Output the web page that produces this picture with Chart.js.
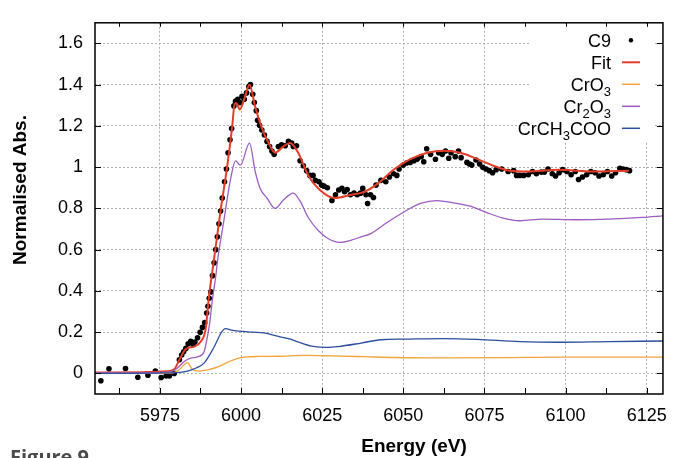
<!DOCTYPE html>
<html>
<head>
<meta charset="utf-8">
<script src="https://cdn.jsdelivr.net/npm/chart.js@4.4.1/dist/chart.umd.min.js"></script>
<style>
  body { margin: 0; background: #fff; }
  #wrap { width: 678px; height: 458px; position: relative; }
</style>
</head>
<body>
<div id="wrap"><canvas id="xas"></canvas></div>
<script>
// tick positions
const xTicks = [5975, 6000, 6025, 6050, 6075, 6100, 6125];
const yTicks = [0, 0.2, 0.4, 0.6, 0.8, 1, 1.2, 1.4, 1.6];

// measured spectrum C9
const c9E = [5956.8, 5959.3, 5964.4, 5968.2, 5971.3, 5973.6, 5975.4, 5976.9, 5977.9, 5979.4,
  5981, 5981.7, 5982.3, 5983, 5983.7, 5984.5, 5985.2, 5985.8, 5986.6, 5987.4, 5988.1, 5988.8,
  5989.4, 5989.8, 5990.2, 5990.7, 5991.2, 5991.7, 5992.2, 5992.7, 5993.2, 5993.7, 5994.2,
  5994.9, 5995.5, 5996, 5996.6, 5997.1, 5997.8, 5998.3, 5999, 5999.6, 6000.3, 6001, 6001.7,
  6002.4, 6002.9, 6003.6, 6004.1, 6004.7, 6005.1, 6005.7, 6006.4, 6007.2, 6008, 6008.8,
  6009.5, 6010.2, 6011.5, 6012.5, 6013.6, 6014.6, 6015.6, 6016.1, 6017.1, 6018.2, 6019.2,
  6020.2, 6021.2, 6022.2, 6022.9, 6024, 6024.8, 6025.6, 6026.6, 6028, 6029.1, 6030.1,
  6031.1, 6031.9, 6032.7, 6033.7, 6034.8, 6035.8, 6036.8, 6037.5, 6038.5, 6039, 6039.9,
  6040.8, 6041.6, 6043.1, 6044.6, 6045.7, 6047, 6048, 6048.7, 6050, 6051, 6052.1, 6053.3,
  6054.3, 6055.5, 6056.3, 6057.2, 6058.4, 6059.9, 6060.9, 6062, 6063, 6064, 6064.7, 6066,
  6067, 6067.8, 6069.6, 6070.4, 6071.1, 6072.4, 6073.5, 6074.5, 6075.5, 6076.5, 6077.5,
  6078.6, 6080.3, 6082.3, 6084, 6084.9, 6085.9, 6087.1, 6088.5, 6089.8, 6091, 6092.5,
  6093.5, 6094.6, 6095.9, 6096.9, 6098, 6099.1, 6100.4, 6101.7, 6103, 6104, 6105.2, 6106.5,
  6107.8, 6109.1, 6110.3, 6111.6, 6112.9, 6114.2, 6115.4, 6116.7, 6117.7, 6118.7, 6119.7];
const c9Y = [-0.036, 0.022, 0.024, -0.019, -0.009, 0.011, -0.02, -0.013, -0.013, 0.0,
  0.066, 0.089, 0.105, 0.121, 0.144, 0.155, 0.141, 0.152, 0.173, 0.199, 0.223, 0.246,
  0.293, 0.325, 0.364, 0.395, 0.474, 0.536, 0.6, 0.662, 0.725, 0.787, 0.85,
  0.929, 0.991, 1.07, 1.133, 1.187, 1.297, 1.32, 1.329, 1.313, 1.344, 1.329, 1.36,
  1.391, 1.40, 1.353, 1.313, 1.274, 1.227, 1.203, 1.18, 1.156, 1.125, 1.10,
  1.078, 1.062, 1.10, 1.109, 1.104, 1.125, 1.117, 1.10, 1.104, 1.031, 1.007,
  0.983, 0.96, 0.96, 0.936, 0.929, 0.913, 0.908, 0.90, 0.838, 0.866, 0.889,
  0.897, 0.881, 0.892, 0.866, 0.874, 0.866, 0.874, 0.897, 0.866, 0.824, 0.866,
  0.853, 0.913, 0.936, 0.929, 0.952, 0.968, 0.96, 0.991, 1.01, 1.02, 1.023, 1.031,
  1.039, 1.051, 1.026, 1.089, 1.062, 1.038, 1.07, 1.062, 1.078, 1.043, 1.07, 1.051,
  1.078, 1.046, 1.023, 1.015, 1.01, 1.035, 1.015, 0.999, 0.991, 0.983, 0.973,
  0.988, 0.991, 0.979, 0.983, 0.96, 0.96, 0.96, 0.963, 0.979, 0.968, 0.976,
  0.976, 0.991, 0.968, 0.957, 0.973, 0.988, 0.979, 0.963, 0.979, 0.94, 0.952, 0.963,
  0.979, 0.973, 0.957, 0.963, 0.979, 0.957, 0.973, 0.995, 0.991, 0.988, 0.983];

// fit
const fitE = [5955, 5970, 5977, 5979.4, 5981, 5983, 5985.6, 5987.6, 5989.1, 5990.1, 5991.2,
  5992.5, 5993.7, 5995.7, 5997.3, 5998, 5998.6, 5999.6, 6001, 6002.6, 6004.4, 6006.4, 6008.5,
  6010.5, 6013, 6015.1, 6017.6, 6020.7, 6023.8, 6028.9, 6034, 6038, 6042.1, 6047.2, 6052.3,
  6057.4, 6062.5, 6067.6, 6072.7, 6077.8, 6082.8, 6088, 6098.1, 6108.3, 6119.5];
const fitY = [0.004, 0.006, 0.01, 0.02, 0.066, 0.118, 0.13, 0.155, 0.215, 0.37, 0.5,
  0.65, 0.79, 1.0, 1.2, 1.305, 1.31, 1.28, 1.33, 1.40, 1.29, 1.19, 1.117,
  1.07, 1.10, 1.117, 1.07, 0.96, 0.897, 0.85, 0.866, 0.88, 0.92, 0.99, 1.04,
  1.07, 1.08, 1.07, 1.04, 1.007, 0.983, 0.979, 0.987, 0.979, 0.983];

// references
const cro3E = [5955, 5979, 5981, 5983.5, 5985, 5987.1, 5990, 5993.2, 5996, 5999.3, 6002,
  6005.4, 6011.5, 6020, 6027.8, 6038, 6047.2, 6062.5, 6080, 6098.1, 6130];
const cro3Y = [0.0, 0.003, 0.019, 0.052, 0.02, 0.011, 0.018, 0.034, 0.055, 0.074, 0.08,
  0.082, 0.083, 0.087, 0.085, 0.081, 0.077, 0.075, 0.076, 0.079, 0.079];

const cr2o3E = [5955, 5975, 5979, 5980.5, 5982.5, 5984.5, 5986.6, 5988.6, 5989.3, 5990.3,
  5991.2, 5992.2, 5992.7, 5994.7, 5996.8, 5998.3, 5999.8, 6002.6, 6004.4, 6005.9, 6008,
  6010.5, 6013, 6016.1, 6018.2, 6020.7, 6023.8, 6026.8, 6030.4, 6034, 6037, 6040, 6045.1,
  6050.3, 6055.3, 6060.4, 6065.5, 6070.6, 6075.7, 6080.8, 6085.9, 6093, 6103.2, 6113.4,
  6123.6, 6130];
const cr2o3Y = [0.002, 0.005, 0.012, 0.027, 0.058, 0.074, 0.08, 0.105, 0.15, 0.24,
  0.36, 0.47, 0.54, 0.74, 0.944, 1.03, 1.01, 1.117, 0.976, 0.897, 0.85,
  0.80, 0.84, 0.874, 0.835, 0.756, 0.693, 0.654, 0.635, 0.646, 0.662, 0.678, 0.733,
  0.784, 0.824, 0.838, 0.827, 0.811, 0.78, 0.753, 0.74, 0.748, 0.745, 0.748,
  0.756, 0.764];

const acetE = [5955, 5980, 5983.5, 5986, 5988.6, 5991.7, 5994, 5995.2, 5997, 5999.3, 6003.4,
  6007.5, 6011.5, 6014.6, 6018, 6021.7, 6024.5, 6026.8, 6029.9, 6037, 6043.1, 6050.3, 6062.5,
  6072.7, 6085.9, 6098.1, 6113.4, 6130];
const acetY = [0.0, 0.004, 0.011, 0.025, 0.05, 0.128, 0.2, 0.217, 0.21, 0.205, 0.2,
  0.195, 0.179, 0.168, 0.15, 0.132, 0.127, 0.126, 0.13, 0.147, 0.163, 0.166, 0.169,
  0.165, 0.154, 0.151, 0.154, 0.157];

const names = ['C9', 'Fit', 'CrO3', 'Cr2O3', 'CrCH3COO'];
// legend text split into [text, isSubscript]
const legendParts = [
  [['C9', false]],
  [['Fit', false]],
  [['CrO', false], ['3', true]],
  [['Cr', false], ['2', true], ['O', false], ['3', true]],
  [['CrCH', false], ['3', true], ['COO', false]]
];
const colors = ['#000000', '#e23d28', '#f2a33a', '#9d5cc0', '#2b4e9e'];

const pts = (xs, ys) => xs.map((v, i) => ({ x: v, y: ys[i] }));
const FONT = '"Liberation Sans", Arial, sans-serif';

function lineSet(label, xs, ys, color, width, order) {
  return {
    label: label,
    data: pts(xs, ys),
    showLine: true,
    borderColor: color,
    borderWidth: width,
    pointRadius: 0,
    cubicInterpolationMode: 'monotone',
    order: order
  };
}

const decor = {
  id: 'decor',
  afterDatasetsDraw(chart) {
    const ctx = chart.ctx;
    const a = chart.chartArea;
    const xs = chart.scales.x, ys = chart.scales.y;
    ctx.save();

    // legend box
    ctx.fillStyle = '#fff';
    ctx.fillRect(a.right - 132, a.top + 1, 122, 118);
    const textRight = a.right - 52;
    ctx.textBaseline = 'alphabetic';
    legendParts.forEach((parts, i) => {
      const base = a.top + 24 + i * 22;
      let w = 0;
      parts.forEach(p => {
        ctx.font = (p[1] ? '13px ' : '18px ') + FONT;
        w += ctx.measureText(p[0]).width;
      });
      let cx = textRight - w;
      ctx.fillStyle = '#000';
      ctx.textAlign = 'left';
      parts.forEach(p => {
        ctx.font = (p[1] ? '13px ' : '18px ') + FONT;
        ctx.fillText(p[0], cx, base + (p[1] ? 5 : 0));
        cx += ctx.measureText(p[0]).width;
      });
      const sy = base - 6.5;
      if (i === 0) {
        ctx.beginPath();
        ctx.arc(a.right - 32, sy, 2.2, 0, Math.PI * 2);
        ctx.fill();
      } else {
        ctx.strokeStyle = colors[i];
        ctx.lineWidth = i === 1 ? 2 : 1.5;
        ctx.beginPath();
        ctx.moveTo(a.right - 41, sy);
        ctx.lineTo(a.right - 23, sy);
        ctx.stroke();
      }
    });

    // tick marks pointing inward
    ctx.strokeStyle = '#000';
    ctx.lineWidth = 1;
    const xAll = [];
    xTicks.forEach(v => { xAll.push(v); xAll.push(v - 12.5); });
    xAll.push(6137.5);
    xAll.forEach(v => {
      if (v <= xs.min || v >= xs.max) return;
      const px = Math.round(xs.getPixelForValue(v)) + 0.5;
      ctx.beginPath();
      ctx.moveTo(px, a.bottom);
      ctx.lineTo(px, a.bottom - 6);
      ctx.moveTo(px, a.top);
      ctx.lineTo(px, a.top + 4);
      ctx.stroke();
    });
    yTicks.forEach(v => {
      const py = Math.round(ys.getPixelForValue(v)) + 0.5;
      ctx.beginPath();
      ctx.moveTo(a.right, py);
      ctx.lineTo(a.right - 6, py);
      ctx.moveTo(a.left, py);
      ctx.lineTo(a.left + 6, py);
      ctx.stroke();
    });

    // frame
    ctx.lineWidth = 1.5;
    ctx.strokeRect(a.left, a.top, a.right - a.left, a.bottom - a.top);
    ctx.restore();
  },
  afterDraw(chart) {
    const ctx = chart.ctx;
    ctx.save();
    ctx.fillStyle = '#000';
    ctx.font = 'bold 19px ' + FONT;
    ctx.textAlign = 'center';
    ctx.textBaseline = 'middle';
    ctx.fillText('Energy (eV)', 414, 447);
    ctx.translate(21, 190);
    ctx.rotate(-Math.PI / 2);
    ctx.fillText('Normalised Abs.', 0, 0);
    ctx.restore();

    ctx.save();
    ctx.fillStyle = '#4a4a4a';
    ctx.font = 'bold 20px "Open Sans", sans-serif';
    ctx.textAlign = 'left';
    ctx.textBaseline = 'top';
    ctx.fillText('Figure 9', 10, 448);
    ctx.restore();
  }
};

new Chart(document.getElementById('xas'), {
  type: 'scatter',
  data: {
    datasets: [
      {
        label: names[0],
        data: pts(c9E, c9Y),
        backgroundColor: '#000',
        borderColor: '#000',
        pointRadius: 2.8,
        pointBorderWidth: 0,
        order: 5
      },
      lineSet(names[1], fitE, fitY, colors[1], 2, 4),
      lineSet(names[2], cro3E, cro3Y, colors[2], 1.3, 3),
      lineSet(names[3], cr2o3E, cr2o3Y, colors[3], 1.3, 2),
      lineSet(names[4], acetE, acetY, colors[4], 1.3, 1)
    ]
  },
  options: {
    responsive: true,
    maintainAspectRatio: false,
    animation: false,
    layout: { padding: { left: 0, top: 13, right: 9, bottom: 34 } },
    plugins: {
      legend: { display: false },
      tooltip: { enabled: false }
    },
    scales: {
      x: {
        type: 'linear',
        min: 5955,
        max: 6130,
        afterBuildTicks: s => { s.ticks = xTicks.map(v => ({ value: v })); },
        afterFit: s => { s.height = 30; },
        ticks: { color: '#000', font: { size: 18, family: FONT }, padding: 11, maxRotation: 0,
          callback: v => String(v) },
        grid: { color: '#b0b0b0', lineWidth: 1, drawTicks: false },
        border: { display: false, dash: [2, 2] }
      },
      y: {
        min: -0.1,
        max: 1.7,
        afterBuildTicks: s => { s.ticks = yTicks.map(v => ({ value: v })); },
        afterFit: s => { s.width = 95; },
        ticks: { color: '#000', font: { size: 18, family: FONT }, padding: 12,
          callback: v => String(Math.round(v * 10) / 10) },
        grid: { color: '#b0b0b0', lineWidth: 1, drawTicks: false },
        border: { display: false, dash: [2, 2] }
      }
    }
  },
  plugins: [decor]
});
</script>
</body>
</html>
